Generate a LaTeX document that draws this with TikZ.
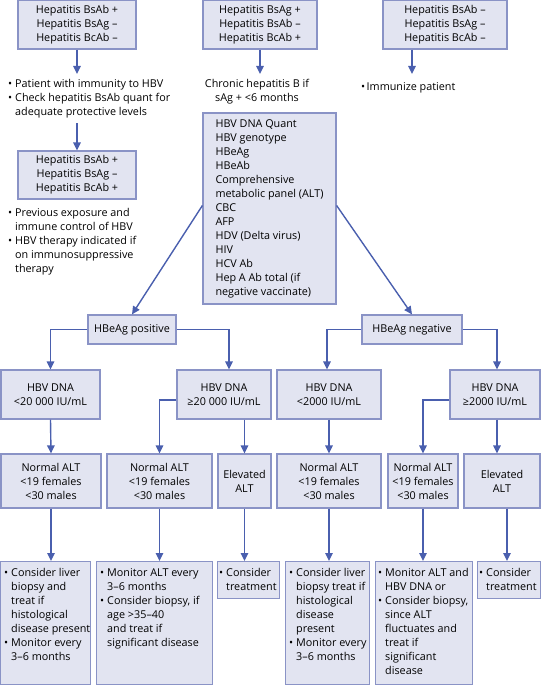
\documentclass[tikz,border=0pt]{standalone}
\usepackage{fontspec}
\setmainfont{Open Sans}
\usetikzlibrary{arrows.meta}
\definecolor{boxfill}{HTML}{E2E4F1}
\definecolor{boxline}{HTML}{8A93C6}
\definecolor{arrowc}{HTML}{4A5FAE}
\tikzset{
 box/.style={draw=boxline, fill=boxfill, line width=1.2pt, inner sep=0pt, align=center},
 txt/.style={inner sep=0pt, align=left, anchor=north west},
 arr/.style={draw=arrowc, line width=1.4pt, -{Triangle[length=8pt,width=7.5pt]}},
}
\newcommand{\bl}{\makebox[7pt][l]{\textbullet}}
\newcommand{\ind}{\hspace*{7pt}}
\begin{document}
\begin{tikzpicture}[x=1pt,y=-1pt, every node/.style={font=\fontsize{10.8}{14}\selectfont}]
\useasboundingbox (0,0) rectangle (541,685);
% top row
\node[box, minimum width=118pt, minimum height=49pt] (A) at (77,24.5) {Hepatitis BsAb +\\Hepatitis BsAg –\\Hepatitis BcAb –};
\node[box, minimum width=114pt, minimum height=49pt] (B) at (260,24.5) {Hepatitis BsAg +\\Hepatitis BsAb –\\Hepatitis BcAb +};
\node[box, minimum width=124pt, minimum height=49pt] (C) at (445,24.5) {Hepatitis BsAb –\\Hepatitis BsAg –\\Hepatitis BcAb –};
\node[txt] (TA) at (8,79) {\bl Patient with immunity to HBV\\\bl Check hepatitis BsAb quant for\\\ind adequate protective levels};
\node[box, minimum width=118pt, minimum height=48pt] (D) at (77,175) {Hepatitis BsAb +\\Hepatitis BsAg –\\Hepatitis BcAb +};
\node[txt] (TD) at (8,208) {\bl Previous exposure and\\\ind immune control of HBV\\\bl HBV therapy indicated if\\\ind on immunosuppressive\\\ind therapy};
\node[inner sep=0pt, align=center, anchor=north] (TB) at (257,79) {Chronic hepatitis B if\\sAg + <6 months};
\node[txt] (TC) at (361,82) {\makebox[5.5pt][l]{\textbullet}Immunize patient};
\node[box, minimum width=133pt, minimum height=191pt, align=left] (E) at (269.5,208.5) {HBV DNA Quant\\HBV genotype\\HBeAg\\HBeAb\\Comprehensive\\metabolic panel (ALT)\\CBC\\AFP\\HDV (Delta virus)\\HIV\\HCV Ab\\Hep A Ab total (if\\negative vaccinate)};
% HBeAg
\node[box, minimum width=88pt, minimum height=29pt] (Pos) at (132,329.5) {HBeAg positive};
\node[box, minimum width=100pt, minimum height=29pt] (Neg) at (412,329.5) {HBeAg negative};
% row 3
\node[box, minimum width=99pt, minimum height=49pt] (P1) at (50.5,394.5) {HBV DNA\\<20 000 IU/mL};
\node[box, minimum width=94pt, minimum height=49pt] (P2) at (224,394.5) {HBV DNA\\≥20 000 IU/mL};
\node[box, minimum width=104pt, minimum height=49pt] (N1) at (329,394.5) {HBV DNA\\<2000 IU/mL};
\node[box, minimum width=90pt, minimum height=49pt] (N2) at (495,394.5) {HBV DNA\\≥2000 IU/mL};
% row 4
\node[box, minimum width=100pt, minimum height=54pt] (PA) at (51,481) {Normal ALT\\<19 females\\<30 males};
\node[box, minimum width=105pt, minimum height=54pt] (PB) at (159.5,481) {Normal ALT\\<19 females\\<30 males};
\node[box, minimum width=53pt, minimum height=54pt] (PC) at (244.5,481) {Elevated\\ALT};
\node[box, minimum width=104pt, minimum height=54pt] (NA) at (329,481) {Normal ALT\\<19 females\\<30 males};
\node[box, minimum width=70pt, minimum height=54pt] (NB) at (423,481) {Normal ALT\\<19 females\\<30 males};
\node[box, minimum width=76pt, minimum height=54pt] (NC) at (502,481) {Elevated\\ALT};
% row 5
\node[box, minimum width=90pt, minimum height=123pt, anchor=north west] (B1) at (0,561) {};
\node[box, minimum width=116pt, minimum height=123pt, anchor=north west] (B2) at (96,561) {};
\node[box, minimum width=62pt, minimum height=37pt, anchor=north west] (B3) at (217,561) {};
\node[box, minimum width=84pt, minimum height=123pt, anchor=north west] (B4) at (285,561) {};
\node[box, minimum width=97pt, minimum height=123pt, anchor=north west] (B5) at (375,561) {};
\node[box, minimum width=63pt, minimum height=37pt, anchor=north west] (B6) at (477,561) {};
\node[txt] (T1) at (4,568.5) {\bl Consider liver\\\ind biopsy and\\\ind treat if\\\ind histological\\\ind disease present\\\bl Monitor every\\\ind 3–6 months};
\node[txt] (T2) at (100,568.5) {\bl Monitor ALT every\\\ind 3–6 months\\\bl Consider biopsy, if\\\ind age >35–40\\\ind and treat if\\\ind significant disease};
\node[txt] (T3) at (219,568.5) {\bl Consider\\\ind treatment};
\node[txt] (T4) at (289,568.5) {\bl Consider liver\\\ind biopsy treat if\\\ind histological\\\ind disease\\\ind present\\\bl Monitor every\\\ind 3–6 months};
\node[txt] (T5) at (378,568.5) {\bl Monitor ALT and\\\ind HBV DNA or\\\bl Consider biopsy,\\\ind since ALT\\\ind fluctuates and\\\ind treat if\\\ind significant\\\ind disease};
\node[txt] (T6) at (479,568.5) {\bl Consider\\\ind treatment};
% connectors
\coordinate (a1) at (77,74);
\draw[arr] (A.south) -- (a1);
\coordinate (a2) at (77,123);
\draw[arr] (a2) -- (D.north);
\coordinate (b1) at (260,74);
\draw[arr] (B.south) -- (b1);
\coordinate (c1) at (412,74);
\draw[arr] (c1 |- C.south) -- (c1);
\draw[arr] ([yshift=3pt]E.west) -- (Pos.north);
\draw[arr] ([yshift=3pt]E.east) -- (Neg.north);
\draw[arr] (Pos.west) -| (P1.north);
\draw[arr] (Pos.east) -| ([xshift=5pt]P2.north);
\draw[arr] (Neg.west) -| ([xshift=-2pt]N1.north);
\draw[arr] (Neg.east) -| ([xshift=2pt]N2.north);
\draw[arr] (P1.south) -- (PA.north);
\draw[arr] ([yshift=-5.5pt]P2.west) -| (PB.north);
\draw[arr] (PC.north |- P2.south) -- (PC.north);
\draw[arr] (N1.south) -- (NA.north);
\draw[arr] ([yshift=-5.5pt]N2.west) -| (NB.north);
\draw[arr] ([xshift=-5pt]NC.north |- N2.south) -- ([xshift=-5pt]NC.north);
\draw[arr] (PA.south) -- (PA.south |- B1.north);
\draw[arr] (PB.south) -- (PB.south |- B2.north);
\draw[arr] (PC.south) -- (PC.south |- B3.north);
\draw[arr] (NA.south) -- (NA.south |- B4.north);
\draw[arr] (NB.south) -- (NB.south |- B5.north);
\draw[arr] ([xshift=5pt]NC.south) -- ([xshift=5pt]NC.south |- B6.north);
\end{tikzpicture}
\end{document}
